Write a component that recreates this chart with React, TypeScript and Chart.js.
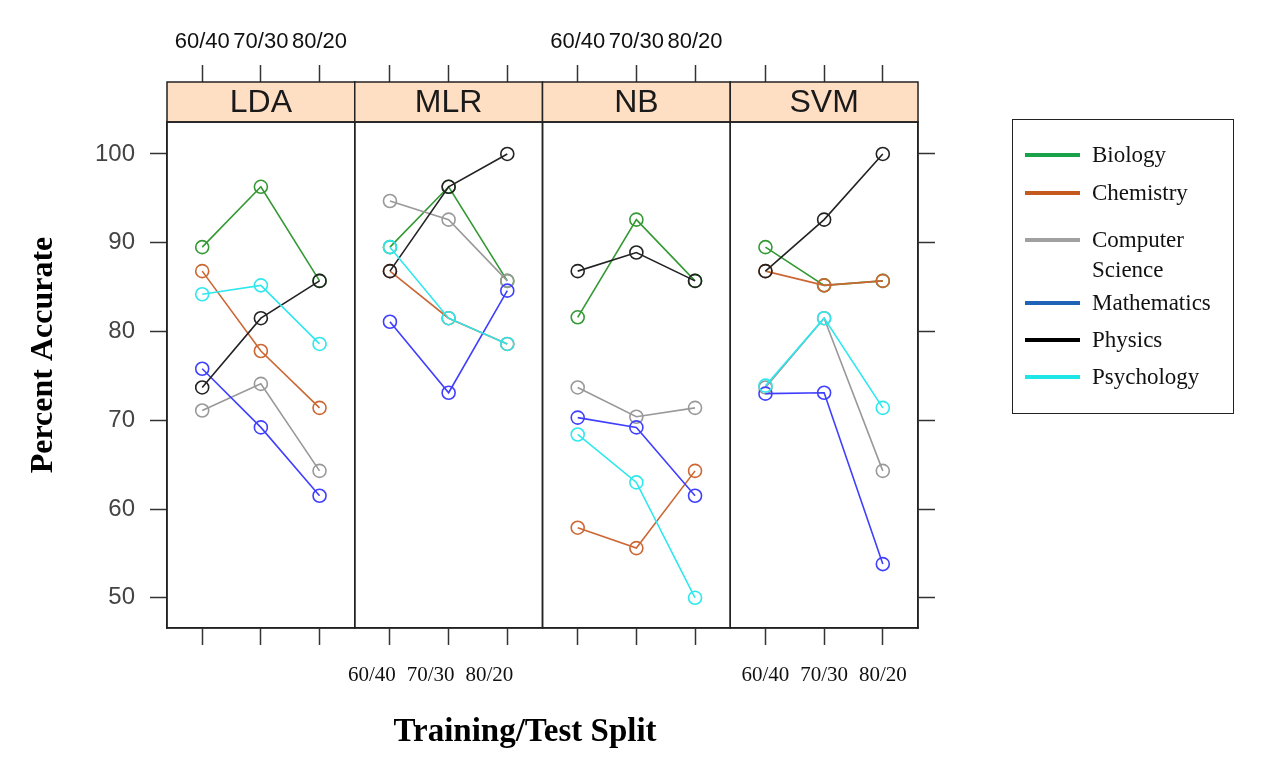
import { useEffect, useRef } from "react";
import { Chart, registerables } from "chart.js";

Chart.register(...registerables);

const methods = ["LDA", "MLR", "NB", "SVM"];
const splits = ["60/40", "70/30", "80/20"];
const subjects = ["Biology", "Chemistry", "Computer Science", "Mathematics", "Physics", "Psychology"];
const yTickValues = [50, 60, 70, 80, 90, 100];
const yMin = 46.6;
const yMax = 103.6;

// rows: Biology, Chemistry, Computer Science, Mathematics, Physics, Psychology
// columns: 60/40, 70/30, 80/20
const ldaValues = [
  [89.5, 96.3, 85.7],
  [86.8, 77.8, 71.4],
  [71.1, 74.1, 64.3],
  [75.8, 69.2, 61.5],
  [73.7, 81.5, 85.7],
  [84.2, 85.2, 78.6],
];
const mlrValues = [
  [89.5, 96.3, 85.7],
  [86.8, 81.5, 78.6],
  [94.7, 92.6, 85.7],
  [81.1, 73.1, 84.6],
  [86.8, 96.3, 100],
  [89.5, 81.5, 78.6],
];
const nbValues = [
  [81.6, 92.6, 85.7],
  [57.9, 55.6, 64.3],
  [73.7, 70.4, 71.4],
  [70.3, 69.2, 61.5],
  [86.8, 88.9, 85.7],
  [68.4, 63.0, 50.0],
];
const svmValues = [
  [89.5, 85.2, 85.7],
  [86.8, 85.2, 85.7],
  [73.7, 81.5, 64.3],
  [73.0, 73.1, 53.8],
  [86.8, 92.6, 100],
  [73.9, 81.5, 71.4],
];
const methodValues = [ldaValues, mlrValues, nbValues, svmValues];

const lineColors = ["#339933", "#cc6633", "#999999", "#3f3fff", "#222222", "#2ee8ee"];
const legendColors = ["#1aa24a", "#c45a1e", "#a0a0a0", "#1e63b5", "#000000", "#1ee6e6"];

const SANS = '"Liberation Sans", Arial, Helvetica, sans-serif';
const SERIF = '"Liberation Serif", "Times New Roman", Times, serif';

const topLabelPanels = [true, false, true, false];
const bottomLabelPanels = [false, true, false, true];

const xTicks = (axis: any) => {
  axis.ticks = splits.map((_, i) => ({ value: i + 1 }));
};
const yTicks = (axis: any) => {
  axis.ticks = yTickValues.map((v) => ({ value: v }));
};

const panelPlugin = {
  id: "panelPlugin",
  afterDraw(chart: any) {
    const ctx = chart.ctx;
    const { top, bottom } = chart.chartArea;
    const stripTop = top - 40;
    ctx.save();
    methods.forEach((m, p) => {
      const sc = chart.scales["x" + p];
      const w = sc.right - sc.left;
      ctx.fillStyle = "#ffdfc4";
      ctx.fillRect(sc.left, stripTop, w, top - stripTop);
      ctx.strokeStyle = "#222";
      ctx.lineWidth = 1.5;
      ctx.strokeRect(sc.left, stripTop, w, top - stripTop);
      ctx.strokeRect(sc.left, top, w, bottom - top);
      ctx.fillStyle = "#1a1a1a";
      ctx.font = `32px ${SANS}`;
      ctx.textAlign = "center";
      ctx.textBaseline = "middle";
      ctx.fillText(m, sc.left + w / 2, (stripTop + top) / 2 + 1);
    });
    ctx.fillStyle = "#000";
    ctx.font = `bold 33px ${SERIF}`;
    ctx.textAlign = "center";
    ctx.textBaseline = "middle";
    ctx.fillText("Training/Test Split", 525, 732);
    ctx.translate(44, 355);
    ctx.rotate(-Math.PI / 2);
    ctx.font = `bold 32px ${SERIF}`;
    ctx.fillText("Percent Accurate", 0, 0);
    ctx.restore();
  },
};

export default function App() {
  const ref = useRef<HTMLCanvasElement | null>(null);

  useEffect(() => {
    if (!ref.current) return;
    const datasets: any[] = [];
    methodValues.forEach((vals, p) => {
      vals.forEach((series, s) => {
        datasets.push({
          label: subjects[s],
          data: series.map((v, i) => ({ x: i + 1, y: v })),
          xAxisID: "x" + p,
          yAxisID: "y",
          borderColor: lineColors[s],
          pointBorderColor: lineColors[s],
          pointBackgroundColor: "rgba(0,0,0,0)",
          pointRadius: 6.5,
          pointBorderWidth: 1.6,
          borderWidth: 1.6,
          tension: 0,
          order: subjects.length - s,
          clip: false,
        });
      });
    });

    const borderOpt = { display: true, color: "#222", width: 1.5 };
    const scales: any = {
      y: {
        type: "linear",
        position: "left",
        min: yMin,
        max: yMax,
        afterBuildTicks: yTicks,
        afterFit: (a: any) => {
          a.width = 167;
        },
        grid: { drawOnChartArea: false, tickLength: 17, tickColor: "#333", tickWidth: 1.5 },
        border: borderOpt,
        ticks: { padding: 15, color: "#444", font: { family: SANS, size: 24 } },
      },
      yr: {
        type: "linear",
        position: "right",
        min: yMin,
        max: yMax,
        afterBuildTicks: yTicks,
        afterFit: (a: any) => {
          a.width = 20;
        },
        grid: { drawOnChartArea: false, tickLength: 17, tickColor: "#333", tickWidth: 1.5 },
        border: borderOpt,
        ticks: { display: false },
      },
    };
    methods.forEach((_, p) => {
      scales["x" + p] = {
        type: "linear",
        position: "bottom",
        stack: "bottom",
        stackWeight: 1,
        weight: p,
        min: 0.4,
        max: 3.6,
        afterBuildTicks: xTicks,
        afterFit: (a: any) => {
          a.height = 138;
        },
        grid: { drawOnChartArea: false, tickLength: 17, tickColor: "#333", tickWidth: 1.5 },
        border: borderOpt,
        ticks: {
          autoSkip: false,
          maxRotation: 0,
          padding: 18,
          labelOffset: p === 1 ? -18 : 0,
          color: "#111",
          font: { family: SERIF, size: 21 },
          callback: (_v: any, i: number) => (bottomLabelPanels[p] ? splits[i] : ""),
        },
      };
    });
    methods.forEach((_, p) => {
      scales["t" + p] = {
        type: "linear",
        position: "top",
        stack: "top",
        stackWeight: 1,
        weight: methods.length - p,
        min: 0.4,
        max: 3.6,
        afterBuildTicks: xTicks,
        afterFit: (a: any) => {
          a.height = 122;
        },
        grid: { drawOnChartArea: false, tickLength: 57, tickColor: "#333", tickWidth: 1.5 },
        border: borderOpt,
        ticks: {
          autoSkip: false,
          maxRotation: 0,
          padding: 10,
          color: "#111",
          font: { family: SANS, size: 22 },
          callback: (_v: any, i: number) => (topLabelPanels[p] ? splits[i] : ""),
        },
      };
    });

    const chart = new Chart(ref.current, {
      type: "line",
      data: { datasets },
      options: {
        responsive: false,
        animation: false,
        devicePixelRatio: 1,
        layout: { padding: { left: 0, top: 0, right: 324, bottom: 0 } },
        plugins: { legend: { display: false }, tooltip: { enabled: false } },
        scales,
      },
      plugins: [panelPlugin],
    });
    return () => chart.destroy();
  }, []);

  const rowCenters = [155, 193, 240, 303, 340, 377];
  return (
    <div style={{ position: "fixed", left: 0, top: 0, width: 1262, height: 766, background: "#fff" }}>
      <canvas ref={ref} width={1262} height={766} style={{ position: "absolute", left: 0, top: 0 }} />
      <div
        style={{
          position: "absolute",
          left: 1012,
          top: 119,
          width: 222,
          height: 295,
          border: "1.5px solid #222",
          boxSizing: "border-box",
        }}
      />
      {subjects.map((s, i) => (
        <div key={s}>
          <div
            style={{
              position: "absolute",
              left: 1025,
              top: rowCenters[i] - 2,
              width: 55,
              height: 4,
              background: legendColors[i],
            }}
          />
          <div
            style={{
              position: "absolute",
              left: 1092,
              top: rowCenters[i] - 15,
              width: 135,
              fontFamily: SERIF,
              fontSize: 23,
              lineHeight: "30px",
              color: "#111",
            }}
          >
            {s}
          </div>
        </div>
      ))}
    </div>
  );
}
